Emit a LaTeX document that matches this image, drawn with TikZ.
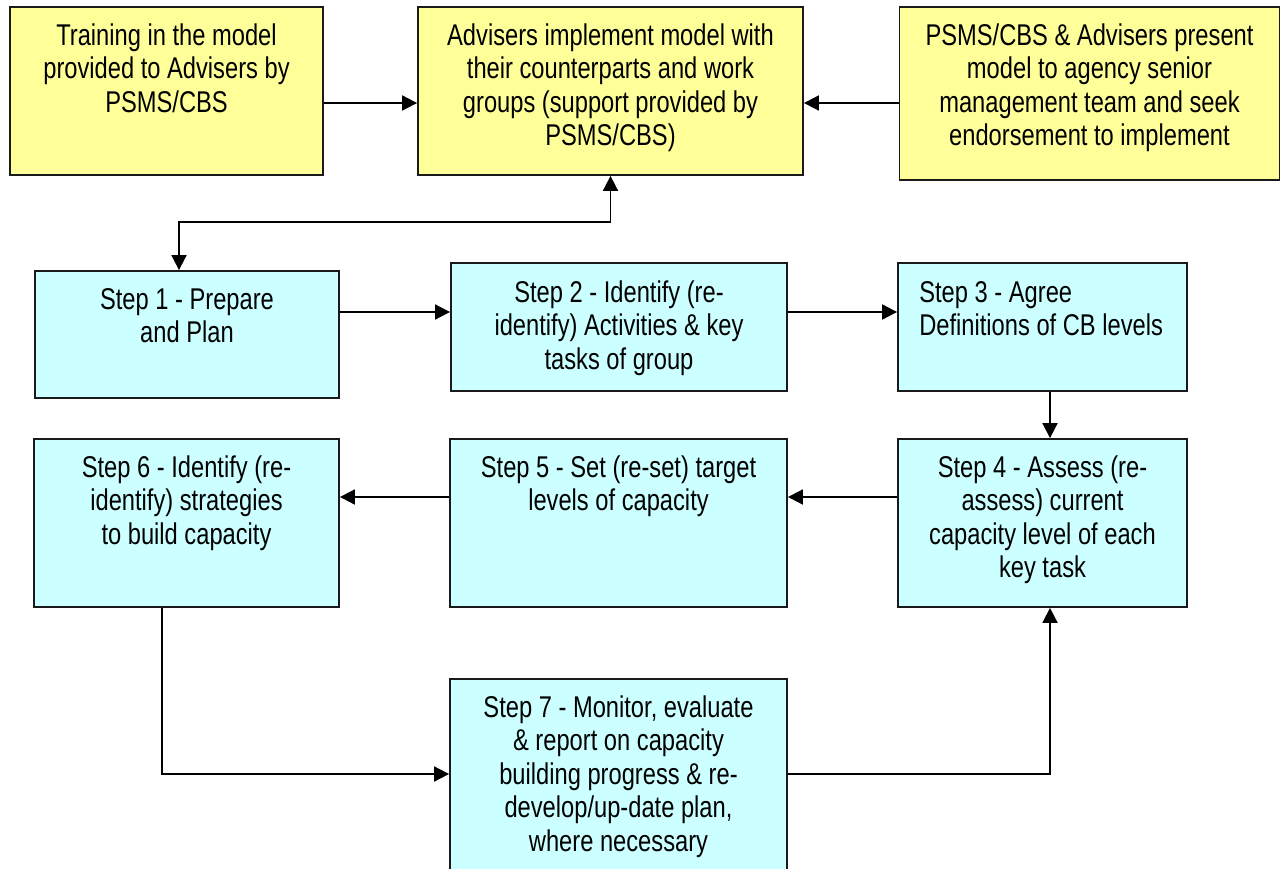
\documentclass[tikz,border=0pt]{standalone}
\usepackage{fontspec}
\setmainfont{Liberation Sans}[FakeStretch=0.79]
\usetikzlibrary{arrows.meta,positioning}
\definecolor{boxyellow}{HTML}{FFFF99}
\definecolor{boxcyan}{HTML}{CCFFFF}
\definecolor{edge}{HTML}{1A1A1A}
\tikzset{
  ybox/.style={draw=edge, fill=boxyellow, line width=1.8pt, inner sep=0pt},
  cbox/.style={draw=edge, fill=boxcyan, line width=1.8pt, inner sep=0pt},
  lbl/.style={inner sep=0pt, align=center, font=\fontsize{30}{33.5}\selectfont, anchor=north},
  arr/.style={line width=1.8pt, draw=black, -{Triangle[length=15pt,width=15pt]}},
  arrboth/.style={line width=1.8pt, draw=black, {Triangle[length=15pt,width=15pt]}-{Triangle[length=15pt,width=15pt]}},
}
\begin{document}
\begin{tikzpicture}[x=1pt,y=-1pt]
\path[use as bounding box, clip] (0,0) rectangle (1281,869);
\fill[white] (0,0) rectangle (1281,869);
% top row
\node[ybox, minimum width=313pt, minimum height=168pt] (a) at (166.5,91) {};
\node[ybox, minimum width=385pt, minimum height=168pt] (b) at (610.5,91) {};
\node[ybox, minimum width=380pt, minimum height=173pt] (c) at (1089.5,93.5) {};
% steps
\node[cbox, minimum width=304pt, minimum height=127pt] (s1) at (187,334.5) {};
\node[cbox, minimum width=336pt, minimum height=128pt] (s2) at (619,327) {};
\node[cbox, minimum width=289pt, minimum height=128pt] (s3) at (1042.5,327) {};
\node[cbox, minimum width=289pt, minimum height=168pt] (s4) at (1042.5,523) {};
\node[cbox, minimum width=337pt, minimum height=168pt] (s5) at (618.5,523) {};
\node[cbox, minimum width=305pt, minimum height=168pt] (s6) at (186.5,523) {};
\node[cbox, minimum width=337pt, minimum height=221pt] (s7) at (618.5,789.5) {};
% labels
\node[lbl] (al) at ([yshift=-17pt]a.north) {Training in the model\\provided to Advisers by\\PSMS/CBS};
\node[lbl] (bl) at ([yshift=-17pt]b.north) {Advisers implement model with\\their counterparts and work\\groups (support provided by\\PSMS/CBS)};
\node[lbl] (cl) at ([yshift=-17pt]c.north) {PSMS/CBS \& Advisers present\\model to agency senior\\management team and seek\\endorsement to implement};
\node[lbl] (s1l) at ([yshift=-18pt]s1.north) {Step 1 - Prepare\\and Plan};
\node[lbl] (s2l) at ([yshift=-18pt]s2.north) {Step 2 - Identify (re-\\identify) Activities \& key\\tasks of group};
\node[lbl, align=left, anchor=north west] (s3l) at ([xshift=22pt,yshift=-19pt]s3.north west) {Step 3 - Agree\\Definitions of CB levels};
\node[lbl] (s4l) at ([yshift=-17pt]s4.north) {Step 4 - Assess (re-\\assess) current\\capacity level of each\\key task};
\node[lbl] (s5l) at ([yshift=-17pt]s5.north) {Step 5 - Set (re-set) target\\levels of capacity};
\node[lbl] (s6l) at ([yshift=-17pt]s6.north) {Step 6 - Identify (re-\\identify) strategies\\to build capacity};
\node[lbl] (s7l) at ([yshift=-17pt]s7.north) {Step 7 - Monitor, evaluate\\\& report on capacity\\building progress \& re-\\develop/up-date plan,\\where necessary};
% connectors
\draw[arr] ([yshift=-12pt]a.east) -- ([yshift=-12pt]b.west);
\draw[arr] ([yshift=-9.5pt]c.west) -- ([yshift=-12pt]b.east);
\draw[arrboth] ([xshift=-8pt]s1.north) -- ++(0,-48) -| (b.south);
\draw[arr] ([yshift=22.5pt]s1.east) -- ([yshift=15pt]s2.west);
\draw[arr] ([yshift=15pt]s2.east) -- ([yshift=15pt]s3.west);
\draw[arr] ([xshift=7.5pt]s3.south) -- ([xshift=7.5pt]s4.north);
\draw[arr] ([yshift=26pt]s4.west) -- ([yshift=26pt]s5.east);
\draw[arr] ([yshift=26pt]s5.west) -- ([yshift=26pt]s6.east);
\draw[arr] ([xshift=-24.5pt]s6.south) |- ([yshift=15.5pt]s7.west);
\draw[arr] ([yshift=15.5pt]s7.east) -| ([xshift=7.5pt]s4.south);
\end{tikzpicture}
\end{document}
